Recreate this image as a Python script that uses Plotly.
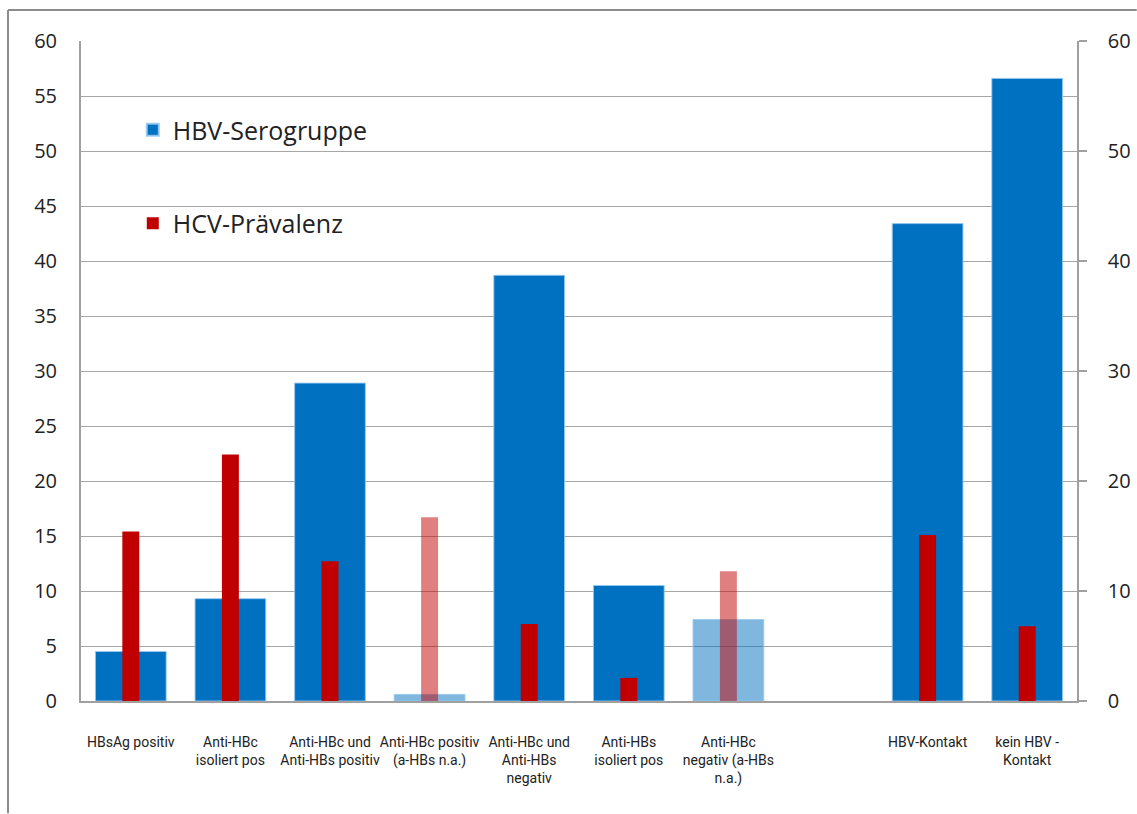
import plotly.graph_objects as go

# Serological groups (one empty slot separates the two summary groups)
categories = [
    "HBsAg positiv",
    "Anti-HBc<br>isoliert pos",
    "Anti-HBc und<br>Anti-HBs positiv",
    "Anti-HBc positiv<br>(a-HBs n.a.)",
    "Anti-HBc und<br>Anti-HBs<br>negativ",
    "Anti-HBs<br>isoliert pos",
    "Anti-HBc<br>negativ (a-HBs<br>n.a.)",
    " ",
    "HBV-Kontakt",
    "kein HBV -<br>Kontakt",
]

# Share of each HBV serogroup (left axis)
hbv_serogruppe = [4.5, 9.3, 28.9, 0.6, 38.7, 10.5, 7.4, None, 43.4, 56.6]

# HCV prevalence within each group (right axis)
hcv_praevalenz = [15.4, 22.4, 12.7, 16.7, 7.0, 2.1, 11.8, None, 15.1, 6.8]

left_ticks = list(range(0, 61, 5))
right_ticks = list(range(0, 61, 10))

BLUE = (0, 112, 192)
RED = (192, 0, 0)


def rgba(c, a):
    return f"rgba({c[0]},{c[1]},{c[2]},{a})"


# Groups where anti-HBs was not available are drawn semi-transparent
faded = ["n.a." in c for c in categories]
blue_fill = [rgba(BLUE, 0.5 if f else 1) for f in faded]
red_fill = [rgba(RED, 0.5 if f else 1) for f in faded]

fig = go.Figure()
fig.add_trace(go.Bar(
    x=categories, y=hbv_serogruppe, name="HBV-Serogruppe",
    marker=dict(color=blue_fill, line=dict(color="rgba(150,200,240,0.9)", width=1)),
    width=0.71, yaxis="y", legendgroup="a",
))
fig.add_trace(go.Bar(
    x=categories, y=hcv_praevalenz, name="HCV-Prävalenz",
    marker=dict(color=red_fill, line=dict(width=0)),
    width=0.17, yaxis="y2", legendgroup="b",
))

axis_font = dict(family="Open Sans, DejaVu Sans, sans-serif", size=20, color="#222222")

fig.update_layout(
    width=1137, height=814,
    margin=dict(l=81, r=60, t=41, b=113),
    paper_bgcolor="white", plot_bgcolor="white",
    barmode="overlay",
    showlegend=True,
    legend=dict(
        x=0.052, y=0.9, xanchor="left", yanchor="top",
        font=dict(family="Open Sans, DejaVu Sans, sans-serif", size=25, color="#222222"),
        bgcolor="rgba(0,0,0,0)", traceorder="grouped", tracegroupgap=58,
        itemsizing="constant",
    ),
    xaxis=dict(
        type="category", categoryorder="array", categoryarray=categories,
        showline=True, linecolor="#a0a0a0", linewidth=2,
        ticks="", showgrid=False, ticklabelstandoff=27, automargin=False,
        tickfont=dict(family="Roboto, Liberation Sans, sans-serif",
                      size=14, color="#222222"),
        tickangle=0,
    ),
    yaxis=dict(
        range=[0, 60], tickvals=left_ticks,
        showgrid=True, gridcolor="#a6a6a6", gridwidth=1,
        showline=True, linecolor="#a0a0a0", linewidth=2,
        ticks="", tickfont=axis_font, ticklabelstandoff=18,
        zeroline=False, automargin=False,
    ),
    yaxis2=dict(
        range=[0, 60], tickvals=right_ticks, overlaying="y", side="right",
        showgrid=False, showline=True, linecolor="#a0a0a0", linewidth=1.5,
        ticks="outside", ticklen=8, tickcolor="#a0a0a0", tickwidth=1.5,
        tickfont=axis_font, ticklabelstandoff=17, zeroline=False,
        automargin=False,
    ),
    shapes=[
        # frame around the chart: top and left edges
        dict(type="line", xref="paper", yref="paper",
             x0=-0.0733, x1=1.06, y0=1.047, y1=1.047,
             line=dict(color="#8c8c8c", width=2)),
        dict(type="line", xref="paper", yref="paper",
             x0=-0.0733, x1=-0.0733, y0=1.047, y1=-0.17,
             line=dict(color="#8c8c8c", width=2)),
    ],
)

fig.write_html("out.html")
